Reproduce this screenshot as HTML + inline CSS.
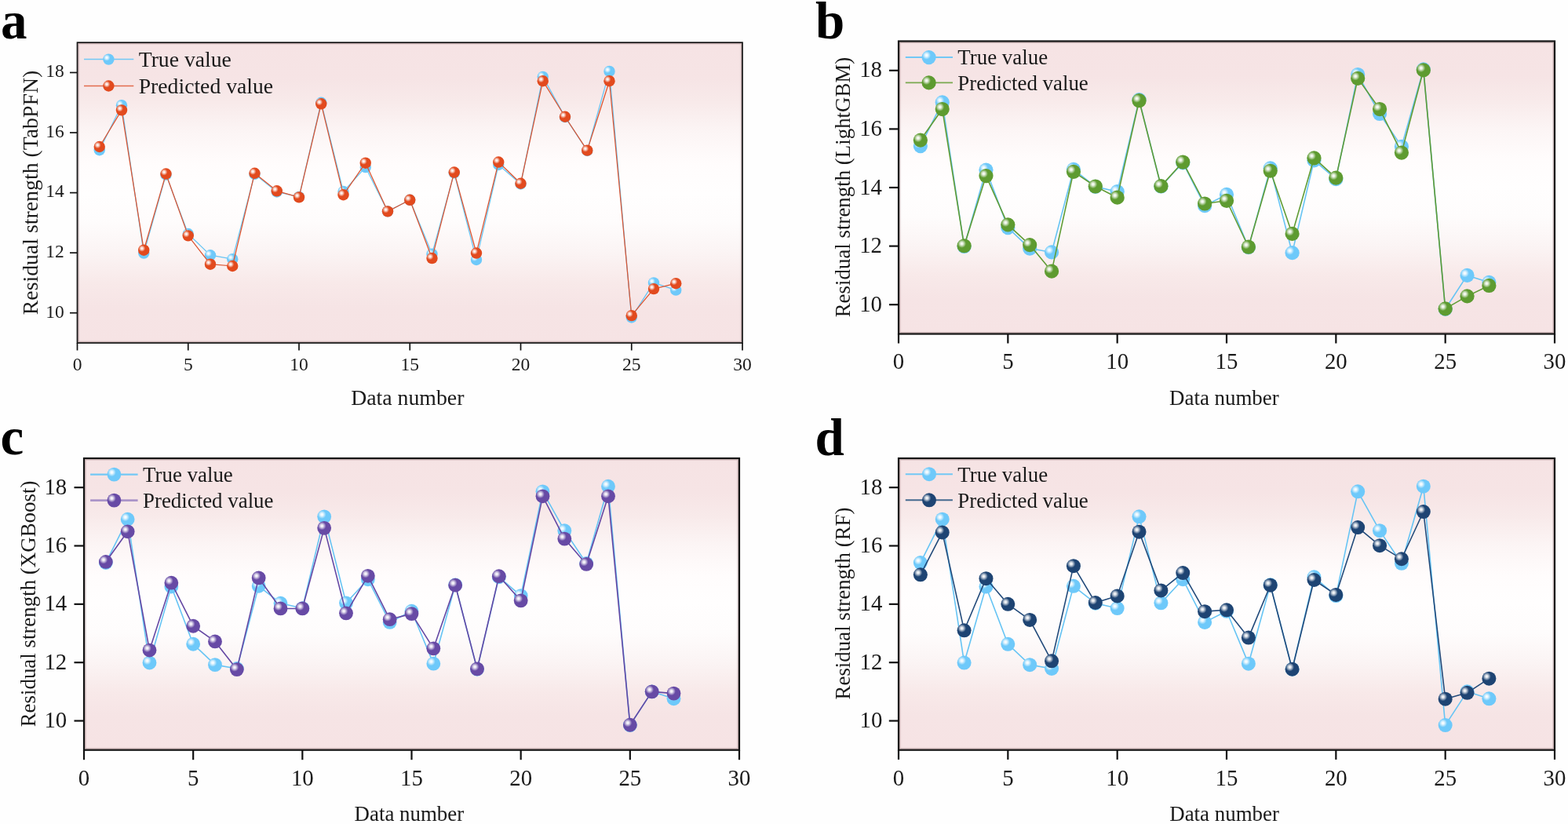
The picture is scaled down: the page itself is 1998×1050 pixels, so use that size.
<!DOCTYPE html><html><head><meta charset="utf-8"><title>Residual strength predictions</title>
<style>html,body{margin:0;padding:0;background:#fefefe;width:1998px;height:1050px;overflow:hidden}svg{display:block}</style></head><body>
<svg width="1998" height="1050" viewBox="0 0 1998 1050" style="font-family:'Liberation Serif','Times New Roman',serif">
<defs>
<linearGradient id="bg" x1="0" y1="0" x2="0" y2="1"><stop offset="0" stop-color="#f6e3e4"/><stop offset="0.12" stop-color="#f6e4e5"/><stop offset="0.2" stop-color="#f8eaea"/><stop offset="0.3" stop-color="#fcf5f5"/><stop offset="0.4" stop-color="#fffcfc"/><stop offset="0.5" stop-color="#fffefe"/><stop offset="0.6" stop-color="#fefcfc"/><stop offset="0.7" stop-color="#fbf4f4"/><stop offset="0.8" stop-color="#f8e9e9"/><stop offset="0.88" stop-color="#f6e4e5"/><stop offset="1" stop-color="#f6e3e4"/></linearGradient>
<radialGradient id="hl" cx="0.5" cy="0.5" r="0.5"><stop offset="0" stop-color="#fff" stop-opacity="1"/><stop offset="0.3" stop-color="#fff" stop-opacity="0.85"/><stop offset="1" stop-color="#fff" stop-opacity="0"/></radialGradient>
</defs>
<g>
<text x="1" y="49" font-size="67" font-weight="bold" fill="#000">a</text>
<rect x="98.5" y="54.2" width="847.5" height="382.8" fill="url(#bg)"/>
<polyline points="126.75,191.24 155,134.21 183.25,322.54 211.5,222.63 239.75,298.04 268,325.22 296.25,330.2 324.5,221.87 352.75,244.45 381,250.96 409.25,130.76 437.5,244.07 465.75,213.06 494,269.33 522.25,254.79 550.5,323.69 578.75,220.34 607,330.96 635.25,210 663.5,234.5 691.75,97.84 720,149.13 748.25,192.01 776.5,90.95 804.75,404.46 833,360.44 861.25,369.63" fill="none" stroke="#66c4f4" stroke-width="1.25" stroke-linejoin="round"/>
<circle cx="126.75" cy="191.24" r="7.2" fill="#6ec9fa"/><circle cx="124.37" cy="189.08" r="4.32" fill="url(#hl)"/>
<circle cx="155" cy="134.21" r="7.2" fill="#6ec9fa"/><circle cx="152.62" cy="132.05" r="4.32" fill="url(#hl)"/>
<circle cx="183.25" cy="322.54" r="7.2" fill="#6ec9fa"/><circle cx="180.87" cy="320.38" r="4.32" fill="url(#hl)"/>
<circle cx="211.5" cy="222.63" r="7.2" fill="#6ec9fa"/><circle cx="209.12" cy="220.47" r="4.32" fill="url(#hl)"/>
<circle cx="239.75" cy="298.04" r="7.2" fill="#6ec9fa"/><circle cx="237.37" cy="295.88" r="4.32" fill="url(#hl)"/>
<circle cx="268" cy="325.22" r="7.2" fill="#6ec9fa"/><circle cx="265.62" cy="323.06" r="4.32" fill="url(#hl)"/>
<circle cx="296.25" cy="330.2" r="7.2" fill="#6ec9fa"/><circle cx="293.87" cy="328.04" r="4.32" fill="url(#hl)"/>
<circle cx="324.5" cy="221.87" r="7.2" fill="#6ec9fa"/><circle cx="322.12" cy="219.71" r="4.32" fill="url(#hl)"/>
<circle cx="352.75" cy="244.45" r="7.2" fill="#6ec9fa"/><circle cx="350.37" cy="242.29" r="4.32" fill="url(#hl)"/>
<circle cx="381" cy="250.96" r="7.2" fill="#6ec9fa"/><circle cx="378.62" cy="248.8" r="4.32" fill="url(#hl)"/>
<circle cx="409.25" cy="130.76" r="7.2" fill="#6ec9fa"/><circle cx="406.87" cy="128.6" r="4.32" fill="url(#hl)"/>
<circle cx="437.5" cy="244.07" r="7.2" fill="#6ec9fa"/><circle cx="435.12" cy="241.91" r="4.32" fill="url(#hl)"/>
<circle cx="465.75" cy="213.06" r="7.2" fill="#6ec9fa"/><circle cx="463.37" cy="210.9" r="4.32" fill="url(#hl)"/>
<circle cx="494" cy="269.33" r="7.2" fill="#6ec9fa"/><circle cx="491.62" cy="267.17" r="4.32" fill="url(#hl)"/>
<circle cx="522.25" cy="254.79" r="7.2" fill="#6ec9fa"/><circle cx="519.87" cy="252.63" r="4.32" fill="url(#hl)"/>
<circle cx="550.5" cy="323.69" r="7.2" fill="#6ec9fa"/><circle cx="548.12" cy="321.53" r="4.32" fill="url(#hl)"/>
<circle cx="578.75" cy="220.34" r="7.2" fill="#6ec9fa"/><circle cx="576.37" cy="218.18" r="4.32" fill="url(#hl)"/>
<circle cx="607" cy="330.96" r="7.2" fill="#6ec9fa"/><circle cx="604.62" cy="328.8" r="4.32" fill="url(#hl)"/>
<circle cx="635.25" cy="210" r="7.2" fill="#6ec9fa"/><circle cx="632.87" cy="207.84" r="4.32" fill="url(#hl)"/>
<circle cx="663.5" cy="234.5" r="7.2" fill="#6ec9fa"/><circle cx="661.12" cy="232.34" r="4.32" fill="url(#hl)"/>
<circle cx="691.75" cy="97.84" r="7.2" fill="#6ec9fa"/><circle cx="689.37" cy="95.68" r="4.32" fill="url(#hl)"/>
<circle cx="720" cy="149.13" r="7.2" fill="#6ec9fa"/><circle cx="717.62" cy="146.97" r="4.32" fill="url(#hl)"/>
<circle cx="748.25" cy="192.01" r="7.2" fill="#6ec9fa"/><circle cx="745.87" cy="189.85" r="4.32" fill="url(#hl)"/>
<circle cx="776.5" cy="90.95" r="7.2" fill="#6ec9fa"/><circle cx="774.12" cy="88.79" r="4.32" fill="url(#hl)"/>
<circle cx="804.75" cy="404.46" r="7.2" fill="#6ec9fa"/><circle cx="802.37" cy="402.3" r="4.32" fill="url(#hl)"/>
<circle cx="833" cy="360.44" r="7.2" fill="#6ec9fa"/><circle cx="830.62" cy="358.28" r="4.32" fill="url(#hl)"/>
<circle cx="861.25" cy="369.63" r="7.2" fill="#6ec9fa"/><circle cx="858.87" cy="367.47" r="4.32" fill="url(#hl)"/>
<polyline points="126.75,187.03 155,140.33 183.25,318.71 211.5,221.48 239.75,300.34 268,336.71 296.25,339 324.5,220.72 352.75,243.3 381,251.34 409.25,132.29 437.5,248.28 465.75,207.7 494,269.33 522.25,254.79 550.5,329.05 578.75,219.57 607,322.54 635.25,206.55 663.5,233.73 691.75,103.2 720,148.75 748.25,191.63 776.5,103.2 804.75,402.17 833,368.1 861.25,361.21" fill="none" stroke="#dc5430" stroke-width="1.25" stroke-linejoin="round"/>
<circle cx="126.75" cy="187.03" r="7.2" fill="#e24a1e"/><circle cx="124.37" cy="184.87" r="4.32" fill="url(#hl)"/>
<circle cx="155" cy="140.33" r="7.2" fill="#e24a1e"/><circle cx="152.62" cy="138.17" r="4.32" fill="url(#hl)"/>
<circle cx="183.25" cy="318.71" r="7.2" fill="#e24a1e"/><circle cx="180.87" cy="316.55" r="4.32" fill="url(#hl)"/>
<circle cx="211.5" cy="221.48" r="7.2" fill="#e24a1e"/><circle cx="209.12" cy="219.32" r="4.32" fill="url(#hl)"/>
<circle cx="239.75" cy="300.34" r="7.2" fill="#e24a1e"/><circle cx="237.37" cy="298.18" r="4.32" fill="url(#hl)"/>
<circle cx="268" cy="336.71" r="7.2" fill="#e24a1e"/><circle cx="265.62" cy="334.55" r="4.32" fill="url(#hl)"/>
<circle cx="296.25" cy="339" r="7.2" fill="#e24a1e"/><circle cx="293.87" cy="336.84" r="4.32" fill="url(#hl)"/>
<circle cx="324.5" cy="220.72" r="7.2" fill="#e24a1e"/><circle cx="322.12" cy="218.56" r="4.32" fill="url(#hl)"/>
<circle cx="352.75" cy="243.3" r="7.2" fill="#e24a1e"/><circle cx="350.37" cy="241.14" r="4.32" fill="url(#hl)"/>
<circle cx="381" cy="251.34" r="7.2" fill="#e24a1e"/><circle cx="378.62" cy="249.18" r="4.32" fill="url(#hl)"/>
<circle cx="409.25" cy="132.29" r="7.2" fill="#e24a1e"/><circle cx="406.87" cy="130.13" r="4.32" fill="url(#hl)"/>
<circle cx="437.5" cy="248.28" r="7.2" fill="#e24a1e"/><circle cx="435.12" cy="246.12" r="4.32" fill="url(#hl)"/>
<circle cx="465.75" cy="207.7" r="7.2" fill="#e24a1e"/><circle cx="463.37" cy="205.54" r="4.32" fill="url(#hl)"/>
<circle cx="494" cy="269.33" r="7.2" fill="#e24a1e"/><circle cx="491.62" cy="267.17" r="4.32" fill="url(#hl)"/>
<circle cx="522.25" cy="254.79" r="7.2" fill="#e24a1e"/><circle cx="519.87" cy="252.63" r="4.32" fill="url(#hl)"/>
<circle cx="550.5" cy="329.05" r="7.2" fill="#e24a1e"/><circle cx="548.12" cy="326.89" r="4.32" fill="url(#hl)"/>
<circle cx="578.75" cy="219.57" r="7.2" fill="#e24a1e"/><circle cx="576.37" cy="217.41" r="4.32" fill="url(#hl)"/>
<circle cx="607" cy="322.54" r="7.2" fill="#e24a1e"/><circle cx="604.62" cy="320.38" r="4.32" fill="url(#hl)"/>
<circle cx="635.25" cy="206.55" r="7.2" fill="#e24a1e"/><circle cx="632.87" cy="204.39" r="4.32" fill="url(#hl)"/>
<circle cx="663.5" cy="233.73" r="7.2" fill="#e24a1e"/><circle cx="661.12" cy="231.57" r="4.32" fill="url(#hl)"/>
<circle cx="691.75" cy="103.2" r="7.2" fill="#e24a1e"/><circle cx="689.37" cy="101.04" r="4.32" fill="url(#hl)"/>
<circle cx="720" cy="148.75" r="7.2" fill="#e24a1e"/><circle cx="717.62" cy="146.59" r="4.32" fill="url(#hl)"/>
<circle cx="748.25" cy="191.63" r="7.2" fill="#e24a1e"/><circle cx="745.87" cy="189.47" r="4.32" fill="url(#hl)"/>
<circle cx="776.5" cy="103.2" r="7.2" fill="#e24a1e"/><circle cx="774.12" cy="101.04" r="4.32" fill="url(#hl)"/>
<circle cx="804.75" cy="402.17" r="7.2" fill="#e24a1e"/><circle cx="802.37" cy="400.01" r="4.32" fill="url(#hl)"/>
<circle cx="833" cy="368.1" r="7.2" fill="#e24a1e"/><circle cx="830.62" cy="365.94" r="4.32" fill="url(#hl)"/>
<circle cx="861.25" cy="361.21" r="7.2" fill="#e24a1e"/><circle cx="858.87" cy="359.05" r="4.32" fill="url(#hl)"/>
<line x1="107" y1="75.6" x2="170.3" y2="75.6" stroke="#72c8f5" stroke-width="1.5"/>
<circle cx="138.4" cy="75.6" r="7.2" fill="#6ec9fa"/><circle cx="136.02" cy="73.44" r="4.32" fill="url(#hl)"/>
<text x="176.7" y="85.2" font-size="27.7" fill="#1a1a1a">True value</text>
<line x1="107" y1="109.5" x2="170.3" y2="109.5" stroke="#e36c4e" stroke-width="1.5"/>
<circle cx="138.4" cy="109.5" r="7.2" fill="#e24a1e"/><circle cx="136.02" cy="107.34" r="4.32" fill="url(#hl)"/>
<text x="176.7" y="118.8" font-size="27.7" fill="#1a1a1a">Predicted value</text>
<rect x="100.05" y="55.75" width="844.4" height="379.7" fill="none" stroke="#7a5a5c" stroke-opacity="0.35" stroke-width="1.4"/>
<rect x="98.5" y="54.2" width="847.5" height="382.8" fill="none" stroke="#111" stroke-width="1.7"/>
<line x1="98.5" y1="437" x2="98.5" y2="446.5" stroke="#111" stroke-width="1.7"/>
<text x="98.5" y="471.7" font-size="23.5" text-anchor="middle" fill="#1a1a1a">0</text>
<line x1="239.75" y1="437" x2="239.75" y2="446.5" stroke="#111" stroke-width="1.7"/>
<text x="239.75" y="471.7" font-size="23.5" text-anchor="middle" fill="#1a1a1a">5</text>
<line x1="381" y1="437" x2="381" y2="446.5" stroke="#111" stroke-width="1.7"/>
<text x="381" y="471.7" font-size="23.5" text-anchor="middle" fill="#1a1a1a">10</text>
<line x1="522.25" y1="437" x2="522.25" y2="446.5" stroke="#111" stroke-width="1.7"/>
<text x="522.25" y="471.7" font-size="23.5" text-anchor="middle" fill="#1a1a1a">15</text>
<line x1="663.5" y1="437" x2="663.5" y2="446.5" stroke="#111" stroke-width="1.7"/>
<text x="663.5" y="471.7" font-size="23.5" text-anchor="middle" fill="#1a1a1a">20</text>
<line x1="804.75" y1="437" x2="804.75" y2="446.5" stroke="#111" stroke-width="1.7"/>
<text x="804.75" y="471.7" font-size="23.5" text-anchor="middle" fill="#1a1a1a">25</text>
<line x1="946" y1="437" x2="946" y2="446.5" stroke="#111" stroke-width="1.7"/>
<text x="946" y="471.7" font-size="23.5" text-anchor="middle" fill="#1a1a1a">30</text>
<line x1="89" y1="398.72" x2="98.5" y2="398.72" stroke="#111" stroke-width="1.7"/>
<text x="81.7" y="404.6" font-size="23.5" text-anchor="end" fill="#1a1a1a">10</text>
<line x1="89" y1="322.16" x2="98.5" y2="322.16" stroke="#111" stroke-width="1.7"/>
<text x="81.7" y="328.03" font-size="23.5" text-anchor="end" fill="#1a1a1a">12</text>
<line x1="89" y1="245.6" x2="98.5" y2="245.6" stroke="#111" stroke-width="1.7"/>
<text x="81.7" y="251.48" font-size="23.5" text-anchor="end" fill="#1a1a1a">14</text>
<line x1="89" y1="169.04" x2="98.5" y2="169.04" stroke="#111" stroke-width="1.7"/>
<text x="81.7" y="174.92" font-size="23.5" text-anchor="end" fill="#1a1a1a">16</text>
<line x1="89" y1="92.48" x2="98.5" y2="92.48" stroke="#111" stroke-width="1.7"/>
<text x="81.7" y="98.36" font-size="23.5" text-anchor="end" fill="#1a1a1a">18</text>
<text x="519.3" y="515.6" font-size="27.8" text-anchor="middle" fill="#1a1a1a">Data number</text>
<text transform="translate(47.6,245.5) rotate(-90)" x="0" y="0" font-size="27.8" text-anchor="middle" fill="#1a1a1a">Residual strength (TabPFN)</text>
</g>
<g>
<text x="1039" y="48.6" font-size="67" font-weight="bold" fill="#000">b</text>
<rect x="1145" y="52.5" width="836" height="373" fill="url(#bg)"/>
<polyline points="1172.87,186.03 1200.73,130.46 1228.6,313.97 1256.47,216.62 1284.33,290.1 1312.2,316.58 1340.07,321.43 1367.93,215.87 1395.8,237.88 1423.67,244.22 1451.53,127.1 1479.4,237.51 1507.27,207.3 1535.13,262.13 1563,247.95 1590.87,315.09 1618.73,214.38 1646.6,322.18 1674.47,204.31 1702.33,228.18 1730.2,95.02 1758.07,145 1785.93,186.78 1813.8,88.31 1841.67,393.8 1869.53,350.9 1897.4,359.85" fill="none" stroke="#66c4f4" stroke-width="1.6" stroke-linejoin="round"/>
<circle cx="1172.87" cy="186.03" r="9.1" fill="#6ec9fa"/><circle cx="1169.86" cy="183.3" r="5.46" fill="url(#hl)"/>
<circle cx="1200.73" cy="130.46" r="9.1" fill="#6ec9fa"/><circle cx="1197.73" cy="127.73" r="5.46" fill="url(#hl)"/>
<circle cx="1228.6" cy="313.97" r="9.1" fill="#6ec9fa"/><circle cx="1225.6" cy="311.24" r="5.46" fill="url(#hl)"/>
<circle cx="1256.47" cy="216.62" r="9.1" fill="#6ec9fa"/><circle cx="1253.46" cy="213.89" r="5.46" fill="url(#hl)"/>
<circle cx="1284.33" cy="290.1" r="9.1" fill="#6ec9fa"/><circle cx="1281.33" cy="287.37" r="5.46" fill="url(#hl)"/>
<circle cx="1312.2" cy="316.58" r="9.1" fill="#6ec9fa"/><circle cx="1309.2" cy="313.85" r="5.46" fill="url(#hl)"/>
<circle cx="1340.07" cy="321.43" r="9.1" fill="#6ec9fa"/><circle cx="1337.06" cy="318.7" r="5.46" fill="url(#hl)"/>
<circle cx="1367.93" cy="215.87" r="9.1" fill="#6ec9fa"/><circle cx="1364.93" cy="213.14" r="5.46" fill="url(#hl)"/>
<circle cx="1395.8" cy="237.88" r="9.1" fill="#6ec9fa"/><circle cx="1392.8" cy="235.15" r="5.46" fill="url(#hl)"/>
<circle cx="1423.67" cy="244.22" r="9.1" fill="#6ec9fa"/><circle cx="1420.66" cy="241.49" r="5.46" fill="url(#hl)"/>
<circle cx="1451.53" cy="127.1" r="9.1" fill="#6ec9fa"/><circle cx="1448.53" cy="124.37" r="5.46" fill="url(#hl)"/>
<circle cx="1479.4" cy="237.51" r="9.1" fill="#6ec9fa"/><circle cx="1476.4" cy="234.78" r="5.46" fill="url(#hl)"/>
<circle cx="1507.27" cy="207.3" r="9.1" fill="#6ec9fa"/><circle cx="1504.26" cy="204.57" r="5.46" fill="url(#hl)"/>
<circle cx="1535.13" cy="262.13" r="9.1" fill="#6ec9fa"/><circle cx="1532.13" cy="259.4" r="5.46" fill="url(#hl)"/>
<circle cx="1563" cy="247.95" r="9.1" fill="#6ec9fa"/><circle cx="1560" cy="245.22" r="5.46" fill="url(#hl)"/>
<circle cx="1590.87" cy="315.09" r="9.1" fill="#6ec9fa"/><circle cx="1587.86" cy="312.36" r="5.46" fill="url(#hl)"/>
<circle cx="1618.73" cy="214.38" r="9.1" fill="#6ec9fa"/><circle cx="1615.73" cy="211.65" r="5.46" fill="url(#hl)"/>
<circle cx="1646.6" cy="322.18" r="9.1" fill="#6ec9fa"/><circle cx="1643.6" cy="319.45" r="5.46" fill="url(#hl)"/>
<circle cx="1674.47" cy="204.31" r="9.1" fill="#6ec9fa"/><circle cx="1671.46" cy="201.58" r="5.46" fill="url(#hl)"/>
<circle cx="1702.33" cy="228.18" r="9.1" fill="#6ec9fa"/><circle cx="1699.33" cy="225.45" r="5.46" fill="url(#hl)"/>
<circle cx="1730.2" cy="95.02" r="9.1" fill="#6ec9fa"/><circle cx="1727.2" cy="92.29" r="5.46" fill="url(#hl)"/>
<circle cx="1758.07" cy="145" r="9.1" fill="#6ec9fa"/><circle cx="1755.06" cy="142.27" r="5.46" fill="url(#hl)"/>
<circle cx="1785.93" cy="186.78" r="9.1" fill="#6ec9fa"/><circle cx="1782.93" cy="184.05" r="5.46" fill="url(#hl)"/>
<circle cx="1813.8" cy="88.31" r="9.1" fill="#6ec9fa"/><circle cx="1810.8" cy="85.58" r="5.46" fill="url(#hl)"/>
<circle cx="1841.67" cy="393.8" r="9.1" fill="#6ec9fa"/><circle cx="1838.66" cy="391.06" r="5.46" fill="url(#hl)"/>
<circle cx="1869.53" cy="350.9" r="9.1" fill="#6ec9fa"/><circle cx="1866.53" cy="348.17" r="5.46" fill="url(#hl)"/>
<circle cx="1897.4" cy="359.85" r="9.1" fill="#6ec9fa"/><circle cx="1894.4" cy="357.12" r="5.46" fill="url(#hl)"/>
<polyline points="1172.87,178.57 1200.73,139.04 1228.6,313.23 1256.47,224.08 1284.33,286.37 1312.2,312.11 1340.07,345.68 1367.93,218.86 1395.8,237.51 1423.67,251.68 1451.53,128.22 1479.4,237.13 1507.27,206.55 1535.13,259.51 1563,255.78 1590.87,314.72 1618.73,217.74 1646.6,297.93 1674.47,201.33 1702.33,226.69 1730.2,99.87 1758.07,139.04 1785.93,194.61 1813.8,89.43 1841.67,393.42 1869.53,377.38 1897.4,363.95" fill="none" stroke="#609c35" stroke-width="1.6" stroke-linejoin="round"/>
<circle cx="1172.87" cy="178.57" r="9.1" fill="#5e9b30"/><circle cx="1169.86" cy="175.84" r="5.46" fill="url(#hl)"/>
<circle cx="1200.73" cy="139.04" r="9.1" fill="#5e9b30"/><circle cx="1197.73" cy="136.31" r="5.46" fill="url(#hl)"/>
<circle cx="1228.6" cy="313.23" r="9.1" fill="#5e9b30"/><circle cx="1225.6" cy="310.5" r="5.46" fill="url(#hl)"/>
<circle cx="1256.47" cy="224.08" r="9.1" fill="#5e9b30"/><circle cx="1253.46" cy="221.35" r="5.46" fill="url(#hl)"/>
<circle cx="1284.33" cy="286.37" r="9.1" fill="#5e9b30"/><circle cx="1281.33" cy="283.64" r="5.46" fill="url(#hl)"/>
<circle cx="1312.2" cy="312.11" r="9.1" fill="#5e9b30"/><circle cx="1309.2" cy="309.38" r="5.46" fill="url(#hl)"/>
<circle cx="1340.07" cy="345.68" r="9.1" fill="#5e9b30"/><circle cx="1337.06" cy="342.95" r="5.46" fill="url(#hl)"/>
<circle cx="1367.93" cy="218.86" r="9.1" fill="#5e9b30"/><circle cx="1364.93" cy="216.13" r="5.46" fill="url(#hl)"/>
<circle cx="1395.8" cy="237.51" r="9.1" fill="#5e9b30"/><circle cx="1392.8" cy="234.78" r="5.46" fill="url(#hl)"/>
<circle cx="1423.67" cy="251.68" r="9.1" fill="#5e9b30"/><circle cx="1420.66" cy="248.95" r="5.46" fill="url(#hl)"/>
<circle cx="1451.53" cy="128.22" r="9.1" fill="#5e9b30"/><circle cx="1448.53" cy="125.49" r="5.46" fill="url(#hl)"/>
<circle cx="1479.4" cy="237.13" r="9.1" fill="#5e9b30"/><circle cx="1476.4" cy="234.4" r="5.46" fill="url(#hl)"/>
<circle cx="1507.27" cy="206.55" r="9.1" fill="#5e9b30"/><circle cx="1504.26" cy="203.82" r="5.46" fill="url(#hl)"/>
<circle cx="1535.13" cy="259.51" r="9.1" fill="#5e9b30"/><circle cx="1532.13" cy="256.78" r="5.46" fill="url(#hl)"/>
<circle cx="1563" cy="255.78" r="9.1" fill="#5e9b30"/><circle cx="1560" cy="253.05" r="5.46" fill="url(#hl)"/>
<circle cx="1590.87" cy="314.72" r="9.1" fill="#5e9b30"/><circle cx="1587.86" cy="311.99" r="5.46" fill="url(#hl)"/>
<circle cx="1618.73" cy="217.74" r="9.1" fill="#5e9b30"/><circle cx="1615.73" cy="215.01" r="5.46" fill="url(#hl)"/>
<circle cx="1646.6" cy="297.93" r="9.1" fill="#5e9b30"/><circle cx="1643.6" cy="295.2" r="5.46" fill="url(#hl)"/>
<circle cx="1674.47" cy="201.33" r="9.1" fill="#5e9b30"/><circle cx="1671.46" cy="198.6" r="5.46" fill="url(#hl)"/>
<circle cx="1702.33" cy="226.69" r="9.1" fill="#5e9b30"/><circle cx="1699.33" cy="223.96" r="5.46" fill="url(#hl)"/>
<circle cx="1730.2" cy="99.87" r="9.1" fill="#5e9b30"/><circle cx="1727.2" cy="97.14" r="5.46" fill="url(#hl)"/>
<circle cx="1758.07" cy="139.04" r="9.1" fill="#5e9b30"/><circle cx="1755.06" cy="136.31" r="5.46" fill="url(#hl)"/>
<circle cx="1785.93" cy="194.61" r="9.1" fill="#5e9b30"/><circle cx="1782.93" cy="191.88" r="5.46" fill="url(#hl)"/>
<circle cx="1813.8" cy="89.43" r="9.1" fill="#5e9b30"/><circle cx="1810.8" cy="86.7" r="5.46" fill="url(#hl)"/>
<circle cx="1841.67" cy="393.42" r="9.1" fill="#5e9b30"/><circle cx="1838.66" cy="390.69" r="5.46" fill="url(#hl)"/>
<circle cx="1869.53" cy="377.38" r="9.1" fill="#5e9b30"/><circle cx="1866.53" cy="374.65" r="5.46" fill="url(#hl)"/>
<circle cx="1897.4" cy="363.95" r="9.1" fill="#5e9b30"/><circle cx="1894.4" cy="361.22" r="5.46" fill="url(#hl)"/>
<line x1="1153.8" y1="73.1" x2="1214" y2="73.1" stroke="#72c8f5" stroke-width="2"/>
<circle cx="1183.6" cy="73.1" r="9.1" fill="#6ec9fa"/><circle cx="1180.6" cy="70.37" r="5.46" fill="url(#hl)"/>
<text x="1220.3" y="82.2" font-size="26.9" fill="#1a1a1a">True value</text>
<line x1="1153.8" y1="105.4" x2="1214" y2="105.4" stroke="#7aa950" stroke-width="1.9"/>
<circle cx="1183.6" cy="105.4" r="9.1" fill="#5e9b30"/><circle cx="1180.6" cy="102.67" r="5.46" fill="url(#hl)"/>
<text x="1220.3" y="115.1" font-size="26.9" fill="#1a1a1a">Predicted value</text>
<rect x="1146.8" y="54.3" width="832.4" height="369.4" fill="none" stroke="#7a5a5c" stroke-opacity="0.35" stroke-width="1.4"/>
<rect x="1145" y="52.5" width="836" height="373" fill="none" stroke="#111" stroke-width="2.2"/>
<line x1="1145" y1="425.5" x2="1145" y2="437.5" stroke="#111" stroke-width="2.2"/>
<text x="1145" y="470" font-size="28.8" text-anchor="middle" fill="#1a1a1a">0</text>
<line x1="1284.33" y1="425.5" x2="1284.33" y2="437.5" stroke="#111" stroke-width="2.2"/>
<text x="1284.33" y="470" font-size="28.8" text-anchor="middle" fill="#1a1a1a">5</text>
<line x1="1423.67" y1="425.5" x2="1423.67" y2="437.5" stroke="#111" stroke-width="2.2"/>
<text x="1423.67" y="470" font-size="28.8" text-anchor="middle" fill="#1a1a1a">10</text>
<line x1="1563" y1="425.5" x2="1563" y2="437.5" stroke="#111" stroke-width="2.2"/>
<text x="1563" y="470" font-size="28.8" text-anchor="middle" fill="#1a1a1a">15</text>
<line x1="1702.33" y1="425.5" x2="1702.33" y2="437.5" stroke="#111" stroke-width="2.2"/>
<text x="1702.33" y="470" font-size="28.8" text-anchor="middle" fill="#1a1a1a">20</text>
<line x1="1841.67" y1="425.5" x2="1841.67" y2="437.5" stroke="#111" stroke-width="2.2"/>
<text x="1841.67" y="470" font-size="28.8" text-anchor="middle" fill="#1a1a1a">25</text>
<line x1="1981" y1="425.5" x2="1981" y2="437.5" stroke="#111" stroke-width="2.2"/>
<text x="1981" y="470" font-size="28.8" text-anchor="middle" fill="#1a1a1a">30</text>
<line x1="1133" y1="388.2" x2="1145" y2="388.2" stroke="#111" stroke-width="2.2"/>
<text x="1124" y="396.84" font-size="28.8" text-anchor="end" fill="#1a1a1a">10</text>
<line x1="1133" y1="313.6" x2="1145" y2="313.6" stroke="#111" stroke-width="2.2"/>
<text x="1124" y="322.24" font-size="28.8" text-anchor="end" fill="#1a1a1a">12</text>
<line x1="1133" y1="239" x2="1145" y2="239" stroke="#111" stroke-width="2.2"/>
<text x="1124" y="247.64" font-size="28.8" text-anchor="end" fill="#1a1a1a">14</text>
<line x1="1133" y1="164.4" x2="1145" y2="164.4" stroke="#111" stroke-width="2.2"/>
<text x="1124" y="173.04" font-size="28.8" text-anchor="end" fill="#1a1a1a">16</text>
<line x1="1133" y1="89.8" x2="1145" y2="89.8" stroke="#111" stroke-width="2.2"/>
<text x="1124" y="98.44" font-size="28.8" text-anchor="end" fill="#1a1a1a">18</text>
<text x="1559.9" y="516" font-size="26.9" text-anchor="middle" fill="#1a1a1a">Data number</text>
<text transform="translate(1082.8,238.5) rotate(-90)" x="0" y="0" font-size="26.9" text-anchor="middle" fill="#1a1a1a">Residual strength (LightGBM)</text>
</g>
<g>
<text x="0.5" y="579" font-size="67" font-weight="bold" fill="#000">c</text>
<rect x="107" y="584" width="835" height="371.7" fill="url(#bg)"/>
<polyline points="134.83,717.07 162.67,661.69 190.5,844.56 218.33,747.55 246.17,820.77 274,847.16 301.83,852 329.67,746.8 357.5,768.73 385.33,775.05 413.17,658.34 441,768.36 468.83,738.26 496.67,792.9 524.5,778.77 552.33,845.68 580.17,745.32 608,852.74 635.83,735.28 663.67,759.07 691.5,626.37 719.33,676.18 747.17,717.81 775,619.68 802.83,924.11 830.67,881.36 858.5,890.28" fill="none" stroke="#66c4f4" stroke-width="1.6" stroke-linejoin="round"/>
<circle cx="134.83" cy="717.07" r="8.9" fill="#6ec9fa"/><circle cx="131.9" cy="714.4" r="5.34" fill="url(#hl)"/>
<circle cx="162.67" cy="661.69" r="8.9" fill="#6ec9fa"/><circle cx="159.73" cy="659.02" r="5.34" fill="url(#hl)"/>
<circle cx="190.5" cy="844.56" r="8.9" fill="#6ec9fa"/><circle cx="187.56" cy="841.89" r="5.34" fill="url(#hl)"/>
<circle cx="218.33" cy="747.55" r="8.9" fill="#6ec9fa"/><circle cx="215.4" cy="744.88" r="5.34" fill="url(#hl)"/>
<circle cx="246.17" cy="820.77" r="8.9" fill="#6ec9fa"/><circle cx="243.23" cy="818.1" r="5.34" fill="url(#hl)"/>
<circle cx="274" cy="847.16" r="8.9" fill="#6ec9fa"/><circle cx="271.06" cy="844.49" r="5.34" fill="url(#hl)"/>
<circle cx="301.83" cy="852" r="8.9" fill="#6ec9fa"/><circle cx="298.9" cy="849.33" r="5.34" fill="url(#hl)"/>
<circle cx="329.67" cy="746.8" r="8.9" fill="#6ec9fa"/><circle cx="326.73" cy="744.13" r="5.34" fill="url(#hl)"/>
<circle cx="357.5" cy="768.73" r="8.9" fill="#6ec9fa"/><circle cx="354.56" cy="766.06" r="5.34" fill="url(#hl)"/>
<circle cx="385.33" cy="775.05" r="8.9" fill="#6ec9fa"/><circle cx="382.4" cy="772.38" r="5.34" fill="url(#hl)"/>
<circle cx="413.17" cy="658.34" r="8.9" fill="#6ec9fa"/><circle cx="410.23" cy="655.67" r="5.34" fill="url(#hl)"/>
<circle cx="441" cy="768.36" r="8.9" fill="#6ec9fa"/><circle cx="438.06" cy="765.69" r="5.34" fill="url(#hl)"/>
<circle cx="468.83" cy="738.26" r="8.9" fill="#6ec9fa"/><circle cx="465.9" cy="735.59" r="5.34" fill="url(#hl)"/>
<circle cx="496.67" cy="792.9" r="8.9" fill="#6ec9fa"/><circle cx="493.73" cy="790.23" r="5.34" fill="url(#hl)"/>
<circle cx="524.5" cy="778.77" r="8.9" fill="#6ec9fa"/><circle cx="521.56" cy="776.1" r="5.34" fill="url(#hl)"/>
<circle cx="552.33" cy="845.68" r="8.9" fill="#6ec9fa"/><circle cx="549.4" cy="843.01" r="5.34" fill="url(#hl)"/>
<circle cx="580.17" cy="745.32" r="8.9" fill="#6ec9fa"/><circle cx="577.23" cy="742.65" r="5.34" fill="url(#hl)"/>
<circle cx="608" cy="852.74" r="8.9" fill="#6ec9fa"/><circle cx="605.06" cy="850.07" r="5.34" fill="url(#hl)"/>
<circle cx="635.83" cy="735.28" r="8.9" fill="#6ec9fa"/><circle cx="632.9" cy="732.61" r="5.34" fill="url(#hl)"/>
<circle cx="663.67" cy="759.07" r="8.9" fill="#6ec9fa"/><circle cx="660.73" cy="756.4" r="5.34" fill="url(#hl)"/>
<circle cx="691.5" cy="626.37" r="8.9" fill="#6ec9fa"/><circle cx="688.56" cy="623.7" r="5.34" fill="url(#hl)"/>
<circle cx="719.33" cy="676.18" r="8.9" fill="#6ec9fa"/><circle cx="716.4" cy="673.51" r="5.34" fill="url(#hl)"/>
<circle cx="747.17" cy="717.81" r="8.9" fill="#6ec9fa"/><circle cx="744.23" cy="715.14" r="5.34" fill="url(#hl)"/>
<circle cx="775" cy="619.68" r="8.9" fill="#6ec9fa"/><circle cx="772.06" cy="617.01" r="5.34" fill="url(#hl)"/>
<circle cx="802.83" cy="924.11" r="8.9" fill="#6ec9fa"/><circle cx="799.9" cy="921.44" r="5.34" fill="url(#hl)"/>
<circle cx="830.67" cy="881.36" r="8.9" fill="#6ec9fa"/><circle cx="827.73" cy="878.69" r="5.34" fill="url(#hl)"/>
<circle cx="858.5" cy="890.28" r="8.9" fill="#6ec9fa"/><circle cx="855.56" cy="887.61" r="5.34" fill="url(#hl)"/>
<polyline points="134.83,715.95 162.67,677.3 190.5,828.58 218.33,742.72 246.17,797.73 274,817.43 301.83,853.11 329.67,736.4 357.5,775.43 385.33,775.43 413.17,672.84 441,781.37 468.83,733.8 496.67,789.18 524.5,782.12 552.33,826.35 580.17,745.69 608,852.37 635.83,734.17 663.67,765.39 691.5,632.32 719.33,686.59 747.17,718.93 775,632.32 802.83,923.73 830.67,881.36 858.5,883.59" fill="none" stroke="#6447a3" stroke-width="1.6" stroke-linejoin="round"/>
<circle cx="134.83" cy="715.95" r="8.9" fill="#674aa5"/><circle cx="131.9" cy="713.28" r="5.34" fill="url(#hl)"/>
<circle cx="162.67" cy="677.3" r="8.9" fill="#674aa5"/><circle cx="159.73" cy="674.63" r="5.34" fill="url(#hl)"/>
<circle cx="190.5" cy="828.58" r="8.9" fill="#674aa5"/><circle cx="187.56" cy="825.91" r="5.34" fill="url(#hl)"/>
<circle cx="218.33" cy="742.72" r="8.9" fill="#674aa5"/><circle cx="215.4" cy="740.05" r="5.34" fill="url(#hl)"/>
<circle cx="246.17" cy="797.73" r="8.9" fill="#674aa5"/><circle cx="243.23" cy="795.06" r="5.34" fill="url(#hl)"/>
<circle cx="274" cy="817.43" r="8.9" fill="#674aa5"/><circle cx="271.06" cy="814.76" r="5.34" fill="url(#hl)"/>
<circle cx="301.83" cy="853.11" r="8.9" fill="#674aa5"/><circle cx="298.9" cy="850.44" r="5.34" fill="url(#hl)"/>
<circle cx="329.67" cy="736.4" r="8.9" fill="#674aa5"/><circle cx="326.73" cy="733.73" r="5.34" fill="url(#hl)"/>
<circle cx="357.5" cy="775.43" r="8.9" fill="#674aa5"/><circle cx="354.56" cy="772.76" r="5.34" fill="url(#hl)"/>
<circle cx="385.33" cy="775.43" r="8.9" fill="#674aa5"/><circle cx="382.4" cy="772.76" r="5.34" fill="url(#hl)"/>
<circle cx="413.17" cy="672.84" r="8.9" fill="#674aa5"/><circle cx="410.23" cy="670.17" r="5.34" fill="url(#hl)"/>
<circle cx="441" cy="781.37" r="8.9" fill="#674aa5"/><circle cx="438.06" cy="778.7" r="5.34" fill="url(#hl)"/>
<circle cx="468.83" cy="733.8" r="8.9" fill="#674aa5"/><circle cx="465.9" cy="731.13" r="5.34" fill="url(#hl)"/>
<circle cx="496.67" cy="789.18" r="8.9" fill="#674aa5"/><circle cx="493.73" cy="786.51" r="5.34" fill="url(#hl)"/>
<circle cx="524.5" cy="782.12" r="8.9" fill="#674aa5"/><circle cx="521.56" cy="779.45" r="5.34" fill="url(#hl)"/>
<circle cx="552.33" cy="826.35" r="8.9" fill="#674aa5"/><circle cx="549.4" cy="823.68" r="5.34" fill="url(#hl)"/>
<circle cx="580.17" cy="745.69" r="8.9" fill="#674aa5"/><circle cx="577.23" cy="743.02" r="5.34" fill="url(#hl)"/>
<circle cx="608" cy="852.37" r="8.9" fill="#674aa5"/><circle cx="605.06" cy="849.7" r="5.34" fill="url(#hl)"/>
<circle cx="635.83" cy="734.17" r="8.9" fill="#674aa5"/><circle cx="632.9" cy="731.5" r="5.34" fill="url(#hl)"/>
<circle cx="663.67" cy="765.39" r="8.9" fill="#674aa5"/><circle cx="660.73" cy="762.72" r="5.34" fill="url(#hl)"/>
<circle cx="691.5" cy="632.32" r="8.9" fill="#674aa5"/><circle cx="688.56" cy="629.65" r="5.34" fill="url(#hl)"/>
<circle cx="719.33" cy="686.59" r="8.9" fill="#674aa5"/><circle cx="716.4" cy="683.92" r="5.34" fill="url(#hl)"/>
<circle cx="747.17" cy="718.93" r="8.9" fill="#674aa5"/><circle cx="744.23" cy="716.26" r="5.34" fill="url(#hl)"/>
<circle cx="775" cy="632.32" r="8.9" fill="#674aa5"/><circle cx="772.06" cy="629.65" r="5.34" fill="url(#hl)"/>
<circle cx="802.83" cy="923.73" r="8.9" fill="#674aa5"/><circle cx="799.9" cy="921.06" r="5.34" fill="url(#hl)"/>
<circle cx="830.67" cy="881.36" r="8.9" fill="#674aa5"/><circle cx="827.73" cy="878.69" r="5.34" fill="url(#hl)"/>
<circle cx="858.5" cy="883.59" r="8.9" fill="#674aa5"/><circle cx="855.56" cy="880.92" r="5.34" fill="url(#hl)"/>
<line x1="115.1" y1="604.6" x2="175.6" y2="604.6" stroke="#72c8f5" stroke-width="2.4"/>
<circle cx="145.4" cy="604.6" r="8.9" fill="#6ec9fa"/><circle cx="142.46" cy="601.93" r="5.34" fill="url(#hl)"/>
<text x="182" y="614.2" font-size="26.9" fill="#1a1a1a">True value</text>
<line x1="115.1" y1="637.6" x2="175.6" y2="637.6" stroke="#ab94c9" stroke-width="2.8"/>
<circle cx="145.4" cy="637.6" r="8.9" fill="#674aa5"/><circle cx="142.46" cy="634.93" r="5.34" fill="url(#hl)"/>
<text x="182" y="646.7" font-size="26.9" fill="#1a1a1a">Predicted value</text>
<rect x="108.8" y="585.8" width="831.4" height="368.1" fill="none" stroke="#7a5a5c" stroke-opacity="0.35" stroke-width="1.4"/>
<rect x="107" y="584" width="835" height="371.7" fill="none" stroke="#111" stroke-width="2.2"/>
<line x1="107" y1="955.7" x2="107" y2="968.2" stroke="#111" stroke-width="2.2"/>
<text x="107" y="1000.5" font-size="28.8" text-anchor="middle" fill="#1a1a1a">0</text>
<line x1="246.17" y1="955.7" x2="246.17" y2="968.2" stroke="#111" stroke-width="2.2"/>
<text x="246.17" y="1000.5" font-size="28.8" text-anchor="middle" fill="#1a1a1a">5</text>
<line x1="385.33" y1="955.7" x2="385.33" y2="968.2" stroke="#111" stroke-width="2.2"/>
<text x="385.33" y="1000.5" font-size="28.8" text-anchor="middle" fill="#1a1a1a">10</text>
<line x1="524.5" y1="955.7" x2="524.5" y2="968.2" stroke="#111" stroke-width="2.2"/>
<text x="524.5" y="1000.5" font-size="28.8" text-anchor="middle" fill="#1a1a1a">15</text>
<line x1="663.67" y1="955.7" x2="663.67" y2="968.2" stroke="#111" stroke-width="2.2"/>
<text x="663.67" y="1000.5" font-size="28.8" text-anchor="middle" fill="#1a1a1a">20</text>
<line x1="802.83" y1="955.7" x2="802.83" y2="968.2" stroke="#111" stroke-width="2.2"/>
<text x="802.83" y="1000.5" font-size="28.8" text-anchor="middle" fill="#1a1a1a">25</text>
<line x1="942" y1="955.7" x2="942" y2="968.2" stroke="#111" stroke-width="2.2"/>
<text x="942" y="1000.5" font-size="28.8" text-anchor="middle" fill="#1a1a1a">30</text>
<line x1="94.5" y1="918.53" x2="107" y2="918.53" stroke="#111" stroke-width="2.2"/>
<text x="85.2" y="927.17" font-size="28.8" text-anchor="end" fill="#1a1a1a">10</text>
<line x1="94.5" y1="844.19" x2="107" y2="844.19" stroke="#111" stroke-width="2.2"/>
<text x="85.2" y="852.83" font-size="28.8" text-anchor="end" fill="#1a1a1a">12</text>
<line x1="94.5" y1="769.85" x2="107" y2="769.85" stroke="#111" stroke-width="2.2"/>
<text x="85.2" y="778.49" font-size="28.8" text-anchor="end" fill="#1a1a1a">14</text>
<line x1="94.5" y1="695.51" x2="107" y2="695.51" stroke="#111" stroke-width="2.2"/>
<text x="85.2" y="704.15" font-size="28.8" text-anchor="end" fill="#1a1a1a">16</text>
<line x1="94.5" y1="621.17" x2="107" y2="621.17" stroke="#111" stroke-width="2.2"/>
<text x="85.2" y="629.81" font-size="28.8" text-anchor="end" fill="#1a1a1a">18</text>
<text x="521.4" y="1046.1" font-size="26.9" text-anchor="middle" fill="#1a1a1a">Data number</text>
<text transform="translate(44.6,769.5) rotate(-90)" x="0" y="0" font-size="26.9" text-anchor="middle" fill="#1a1a1a">Residual strength (XGBoost)</text>
</g>
<g>
<text x="1038.5" y="579.5" font-size="67" font-weight="bold" fill="#000">d</text>
<rect x="1145" y="584" width="836" height="371.7" fill="url(#bg)"/>
<polyline points="1172.87,717.07 1200.73,661.69 1228.6,844.56 1256.47,747.55 1284.33,820.77 1312.2,847.16 1340.07,852 1367.93,746.8 1395.8,768.73 1423.67,775.05 1451.53,658.34 1479.4,768.36 1507.27,738.26 1535.13,792.9 1563,778.77 1590.87,845.68 1618.73,745.32 1646.6,852.74 1674.47,735.28 1702.33,759.07 1730.2,626.37 1758.07,676.18 1785.93,717.81 1813.8,619.68 1841.67,924.11 1869.53,881.36 1897.4,890.28" fill="none" stroke="#66c4f4" stroke-width="1.6" stroke-linejoin="round"/>
<circle cx="1172.87" cy="717.07" r="9" fill="#6ec9fa"/><circle cx="1169.9" cy="714.37" r="5.4" fill="url(#hl)"/>
<circle cx="1200.73" cy="661.69" r="9" fill="#6ec9fa"/><circle cx="1197.76" cy="658.99" r="5.4" fill="url(#hl)"/>
<circle cx="1228.6" cy="844.56" r="9" fill="#6ec9fa"/><circle cx="1225.63" cy="841.86" r="5.4" fill="url(#hl)"/>
<circle cx="1256.47" cy="747.55" r="9" fill="#6ec9fa"/><circle cx="1253.5" cy="744.85" r="5.4" fill="url(#hl)"/>
<circle cx="1284.33" cy="820.77" r="9" fill="#6ec9fa"/><circle cx="1281.36" cy="818.07" r="5.4" fill="url(#hl)"/>
<circle cx="1312.2" cy="847.16" r="9" fill="#6ec9fa"/><circle cx="1309.23" cy="844.46" r="5.4" fill="url(#hl)"/>
<circle cx="1340.07" cy="852" r="9" fill="#6ec9fa"/><circle cx="1337.1" cy="849.3" r="5.4" fill="url(#hl)"/>
<circle cx="1367.93" cy="746.8" r="9" fill="#6ec9fa"/><circle cx="1364.96" cy="744.1" r="5.4" fill="url(#hl)"/>
<circle cx="1395.8" cy="768.73" r="9" fill="#6ec9fa"/><circle cx="1392.83" cy="766.03" r="5.4" fill="url(#hl)"/>
<circle cx="1423.67" cy="775.05" r="9" fill="#6ec9fa"/><circle cx="1420.7" cy="772.35" r="5.4" fill="url(#hl)"/>
<circle cx="1451.53" cy="658.34" r="9" fill="#6ec9fa"/><circle cx="1448.56" cy="655.64" r="5.4" fill="url(#hl)"/>
<circle cx="1479.4" cy="768.36" r="9" fill="#6ec9fa"/><circle cx="1476.43" cy="765.66" r="5.4" fill="url(#hl)"/>
<circle cx="1507.27" cy="738.26" r="9" fill="#6ec9fa"/><circle cx="1504.3" cy="735.56" r="5.4" fill="url(#hl)"/>
<circle cx="1535.13" cy="792.9" r="9" fill="#6ec9fa"/><circle cx="1532.16" cy="790.2" r="5.4" fill="url(#hl)"/>
<circle cx="1563" cy="778.77" r="9" fill="#6ec9fa"/><circle cx="1560.03" cy="776.07" r="5.4" fill="url(#hl)"/>
<circle cx="1590.87" cy="845.68" r="9" fill="#6ec9fa"/><circle cx="1587.9" cy="842.98" r="5.4" fill="url(#hl)"/>
<circle cx="1618.73" cy="745.32" r="9" fill="#6ec9fa"/><circle cx="1615.76" cy="742.62" r="5.4" fill="url(#hl)"/>
<circle cx="1646.6" cy="852.74" r="9" fill="#6ec9fa"/><circle cx="1643.63" cy="850.04" r="5.4" fill="url(#hl)"/>
<circle cx="1674.47" cy="735.28" r="9" fill="#6ec9fa"/><circle cx="1671.5" cy="732.58" r="5.4" fill="url(#hl)"/>
<circle cx="1702.33" cy="759.07" r="9" fill="#6ec9fa"/><circle cx="1699.36" cy="756.37" r="5.4" fill="url(#hl)"/>
<circle cx="1730.2" cy="626.37" r="9" fill="#6ec9fa"/><circle cx="1727.23" cy="623.67" r="5.4" fill="url(#hl)"/>
<circle cx="1758.07" cy="676.18" r="9" fill="#6ec9fa"/><circle cx="1755.1" cy="673.48" r="5.4" fill="url(#hl)"/>
<circle cx="1785.93" cy="717.81" r="9" fill="#6ec9fa"/><circle cx="1782.96" cy="715.11" r="5.4" fill="url(#hl)"/>
<circle cx="1813.8" cy="619.68" r="9" fill="#6ec9fa"/><circle cx="1810.83" cy="616.98" r="5.4" fill="url(#hl)"/>
<circle cx="1841.67" cy="924.11" r="9" fill="#6ec9fa"/><circle cx="1838.7" cy="921.41" r="5.4" fill="url(#hl)"/>
<circle cx="1869.53" cy="881.36" r="9" fill="#6ec9fa"/><circle cx="1866.56" cy="878.66" r="5.4" fill="url(#hl)"/>
<circle cx="1897.4" cy="890.28" r="9" fill="#6ec9fa"/><circle cx="1894.43" cy="887.58" r="5.4" fill="url(#hl)"/>
<polyline points="1172.87,732.31 1200.73,678.41 1228.6,803.3 1256.47,737.14 1284.33,769.85 1312.2,789.92 1340.07,842.33 1367.93,721.16 1395.8,767.99 1423.67,759.44 1451.53,677.67 1479.4,752.38 1507.27,730.08 1535.13,779.14 1563,777.28 1590.87,812.6 1618.73,745.69 1646.6,852.74 1674.47,739 1702.33,757.96 1730.2,672.09 1758.07,695.14 1785.93,712.24 1813.8,652.02 1841.67,890.65 1869.53,882.85 1897.4,864.63" fill="none" stroke="#224a7a" stroke-width="1.6" stroke-linejoin="round"/>
<circle cx="1172.87" cy="732.31" r="9" fill="#1e4473"/><circle cx="1169.9" cy="729.61" r="5.4" fill="url(#hl)"/>
<circle cx="1200.73" cy="678.41" r="9" fill="#1e4473"/><circle cx="1197.76" cy="675.71" r="5.4" fill="url(#hl)"/>
<circle cx="1228.6" cy="803.3" r="9" fill="#1e4473"/><circle cx="1225.63" cy="800.6" r="5.4" fill="url(#hl)"/>
<circle cx="1256.47" cy="737.14" r="9" fill="#1e4473"/><circle cx="1253.5" cy="734.44" r="5.4" fill="url(#hl)"/>
<circle cx="1284.33" cy="769.85" r="9" fill="#1e4473"/><circle cx="1281.36" cy="767.15" r="5.4" fill="url(#hl)"/>
<circle cx="1312.2" cy="789.92" r="9" fill="#1e4473"/><circle cx="1309.23" cy="787.22" r="5.4" fill="url(#hl)"/>
<circle cx="1340.07" cy="842.33" r="9" fill="#1e4473"/><circle cx="1337.1" cy="839.63" r="5.4" fill="url(#hl)"/>
<circle cx="1367.93" cy="721.16" r="9" fill="#1e4473"/><circle cx="1364.96" cy="718.46" r="5.4" fill="url(#hl)"/>
<circle cx="1395.8" cy="767.99" r="9" fill="#1e4473"/><circle cx="1392.83" cy="765.29" r="5.4" fill="url(#hl)"/>
<circle cx="1423.67" cy="759.44" r="9" fill="#1e4473"/><circle cx="1420.7" cy="756.74" r="5.4" fill="url(#hl)"/>
<circle cx="1451.53" cy="677.67" r="9" fill="#1e4473"/><circle cx="1448.56" cy="674.97" r="5.4" fill="url(#hl)"/>
<circle cx="1479.4" cy="752.38" r="9" fill="#1e4473"/><circle cx="1476.43" cy="749.68" r="5.4" fill="url(#hl)"/>
<circle cx="1507.27" cy="730.08" r="9" fill="#1e4473"/><circle cx="1504.3" cy="727.38" r="5.4" fill="url(#hl)"/>
<circle cx="1535.13" cy="779.14" r="9" fill="#1e4473"/><circle cx="1532.16" cy="776.44" r="5.4" fill="url(#hl)"/>
<circle cx="1563" cy="777.28" r="9" fill="#1e4473"/><circle cx="1560.03" cy="774.58" r="5.4" fill="url(#hl)"/>
<circle cx="1590.87" cy="812.6" r="9" fill="#1e4473"/><circle cx="1587.9" cy="809.9" r="5.4" fill="url(#hl)"/>
<circle cx="1618.73" cy="745.69" r="9" fill="#1e4473"/><circle cx="1615.76" cy="742.99" r="5.4" fill="url(#hl)"/>
<circle cx="1646.6" cy="852.74" r="9" fill="#1e4473"/><circle cx="1643.63" cy="850.04" r="5.4" fill="url(#hl)"/>
<circle cx="1674.47" cy="739" r="9" fill="#1e4473"/><circle cx="1671.5" cy="736.3" r="5.4" fill="url(#hl)"/>
<circle cx="1702.33" cy="757.96" r="9" fill="#1e4473"/><circle cx="1699.36" cy="755.26" r="5.4" fill="url(#hl)"/>
<circle cx="1730.2" cy="672.09" r="9" fill="#1e4473"/><circle cx="1727.23" cy="669.39" r="5.4" fill="url(#hl)"/>
<circle cx="1758.07" cy="695.14" r="9" fill="#1e4473"/><circle cx="1755.1" cy="692.44" r="5.4" fill="url(#hl)"/>
<circle cx="1785.93" cy="712.24" r="9" fill="#1e4473"/><circle cx="1782.96" cy="709.54" r="5.4" fill="url(#hl)"/>
<circle cx="1813.8" cy="652.02" r="9" fill="#1e4473"/><circle cx="1810.83" cy="649.32" r="5.4" fill="url(#hl)"/>
<circle cx="1841.67" cy="890.65" r="9" fill="#1e4473"/><circle cx="1838.7" cy="887.95" r="5.4" fill="url(#hl)"/>
<circle cx="1869.53" cy="882.85" r="9" fill="#1e4473"/><circle cx="1866.56" cy="880.15" r="5.4" fill="url(#hl)"/>
<circle cx="1897.4" cy="864.63" r="9" fill="#1e4473"/><circle cx="1894.43" cy="861.93" r="5.4" fill="url(#hl)"/>
<line x1="1153.8" y1="604.2" x2="1213.9" y2="604.2" stroke="#72c8f5" stroke-width="2"/>
<circle cx="1184" cy="604.2" r="9" fill="#6ec9fa"/><circle cx="1181.03" cy="601.5" r="5.4" fill="url(#hl)"/>
<text x="1220.3" y="613.7" font-size="26.9" fill="#1a1a1a">True value</text>
<line x1="1153.8" y1="637.3" x2="1213.9" y2="637.3" stroke="#446a8f" stroke-width="2"/>
<circle cx="1184" cy="637.3" r="9" fill="#1e4473"/><circle cx="1181.03" cy="634.6" r="5.4" fill="url(#hl)"/>
<text x="1220.3" y="646.5" font-size="26.9" fill="#1a1a1a">Predicted value</text>
<rect x="1146.8" y="585.8" width="832.4" height="368.1" fill="none" stroke="#7a5a5c" stroke-opacity="0.35" stroke-width="1.4"/>
<rect x="1145" y="584" width="836" height="371.7" fill="none" stroke="#111" stroke-width="2.2"/>
<line x1="1145" y1="955.7" x2="1145" y2="967.9" stroke="#111" stroke-width="2.2"/>
<text x="1145" y="1000.5" font-size="28.8" text-anchor="middle" fill="#1a1a1a">0</text>
<line x1="1284.33" y1="955.7" x2="1284.33" y2="967.9" stroke="#111" stroke-width="2.2"/>
<text x="1284.33" y="1000.5" font-size="28.8" text-anchor="middle" fill="#1a1a1a">5</text>
<line x1="1423.67" y1="955.7" x2="1423.67" y2="967.9" stroke="#111" stroke-width="2.2"/>
<text x="1423.67" y="1000.5" font-size="28.8" text-anchor="middle" fill="#1a1a1a">10</text>
<line x1="1563" y1="955.7" x2="1563" y2="967.9" stroke="#111" stroke-width="2.2"/>
<text x="1563" y="1000.5" font-size="28.8" text-anchor="middle" fill="#1a1a1a">15</text>
<line x1="1702.33" y1="955.7" x2="1702.33" y2="967.9" stroke="#111" stroke-width="2.2"/>
<text x="1702.33" y="1000.5" font-size="28.8" text-anchor="middle" fill="#1a1a1a">20</text>
<line x1="1841.67" y1="955.7" x2="1841.67" y2="967.9" stroke="#111" stroke-width="2.2"/>
<text x="1841.67" y="1000.5" font-size="28.8" text-anchor="middle" fill="#1a1a1a">25</text>
<line x1="1981" y1="955.7" x2="1981" y2="967.9" stroke="#111" stroke-width="2.2"/>
<text x="1981" y="1000.5" font-size="28.8" text-anchor="middle" fill="#1a1a1a">30</text>
<line x1="1132.8" y1="918.53" x2="1145" y2="918.53" stroke="#111" stroke-width="2.2"/>
<text x="1124.3" y="927.17" font-size="28.8" text-anchor="end" fill="#1a1a1a">10</text>
<line x1="1132.8" y1="844.19" x2="1145" y2="844.19" stroke="#111" stroke-width="2.2"/>
<text x="1124.3" y="852.83" font-size="28.8" text-anchor="end" fill="#1a1a1a">12</text>
<line x1="1132.8" y1="769.85" x2="1145" y2="769.85" stroke="#111" stroke-width="2.2"/>
<text x="1124.3" y="778.49" font-size="28.8" text-anchor="end" fill="#1a1a1a">14</text>
<line x1="1132.8" y1="695.51" x2="1145" y2="695.51" stroke="#111" stroke-width="2.2"/>
<text x="1124.3" y="704.15" font-size="28.8" text-anchor="end" fill="#1a1a1a">16</text>
<line x1="1132.8" y1="621.17" x2="1145" y2="621.17" stroke="#111" stroke-width="2.2"/>
<text x="1124.3" y="629.81" font-size="28.8" text-anchor="end" fill="#1a1a1a">18</text>
<text x="1560.1" y="1046" font-size="26.9" text-anchor="middle" fill="#1a1a1a">Data number</text>
<text transform="translate(1082.9,769) rotate(-90)" x="0" y="0" font-size="26.9" text-anchor="middle" fill="#1a1a1a">Residual strength (RF)</text>
</g>
</svg></body></html>
